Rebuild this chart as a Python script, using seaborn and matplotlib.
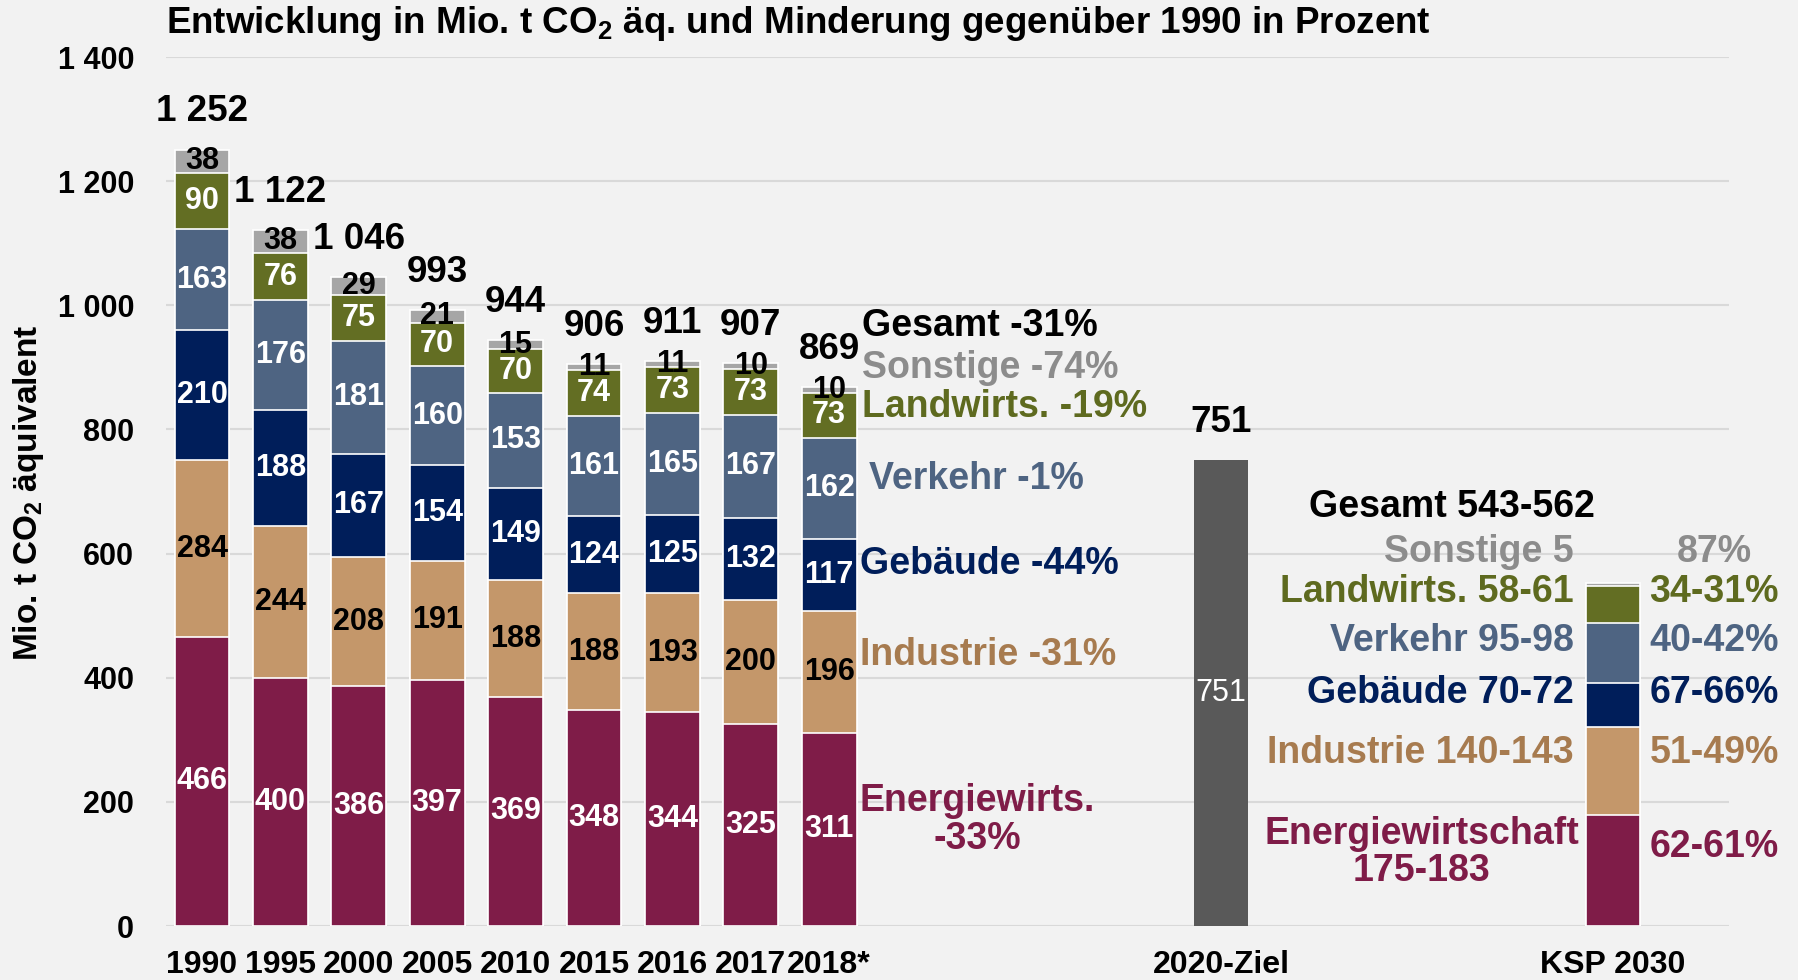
import numpy as np
import pandas as pd
import matplotlib
matplotlib.use("Agg")
import matplotlib.pyplot as plt
import seaborn as sns

# ── Data ─────────────────────────────────────────────────────────────
YEARS     = ["1990", "1995", "2000", "2005", "2010", "2015", "2016", "2017", "2018*"]
ENERGIE   = [466, 400, 386, 397, 369, 348, 344, 325, 311]
INDUSTRIE = [284, 244, 208, 191, 188, 188, 193, 200, 196]
GEBAEUDE  = [210, 188, 167, 154, 149, 124, 125, 132, 117]
VERKEHR   = [163, 176, 181, 160, 153, 161, 165, 167, 162]
LANDWIRTS = [90, 76, 75, 70, 70, 74, 73, 73, 73]
SONSTIGE  = [38, 38, 29, 21, 15, 11, 11, 10, 10]
TOTALS    = [1252, 1122, 1046, 993, 944, 906, 911, 907, 869]

ZIEL_2020 = 751
KSP_LOW   = [175, 140, 70, 95, 58, 5]   # Energie, Industrie, Gebäude, Verkehr, Landwirts, Sonstige
KSP_HIGH  = [183, 143, 72, 98, 61, 5]
KSP_TOTAL = "543-562"
KSP_PCT   = ["62-61%", "51-49%", "67-66%", "40-42%", "34-31%", "87%"]

CHANGE_2018 = ["-33%", "-31%", "-44%", "-1%", "-19%", "-74%"]
GESAMT_2018 = "-31%"

SECTORS = ["Energiewirtschaft", "Industrie", "Gebäude", "Verkehr", "Landwirtschaft", "Sonstige"]

# ── Style ────────────────────────────────────────────────────────────
BG = "#F2F2F2"
COLORS = {
    "Energiewirtschaft": "#7F1C48",
    "Industrie":         "#C4976A",
    "Gebäude":           "#001E5A",
    "Verkehr":           "#4E6482",
    "Landwirtschaft":    "#636E23",
    "Sonstige":          "#A6A6A6",
}
TEXT_COLORS = {
    "Energiewirtschaft": "#7F1C48",
    "Industrie":         "#A77B4F",
    "Gebäude":           "#001E5A",
    "Verkehr":           "#4E6482",
    "Landwirtschaft":    "#5E6A1F",
    "Sonstige":          "#8C8C8C",
}
LABEL_ON_BAR = {"Industrie": "black", "Sonstige": "black"}

X_YEARS = list(range(len(YEARS)))
X_ZIEL = 13
X_KSP = 18
FS = 27


def fmt(v):
    return f"{v:,}".replace(",", " ")


def main():
    sns.set_theme(style="white")
    plt.rcParams["font.family"] = ["Liberation Sans", "DejaVu Sans"]
    plt.rcParams["font.weight"] = "bold"
    plt.rcParams["text.color"] = "black"
    plt.rcParams["xtick.color"] = "black"
    plt.rcParams["ytick.color"] = "black"
    plt.rcParams["mathtext.fontset"] = "custom"
    plt.rcParams["mathtext.rm"] = "Liberation Sans:bold"
    plt.rcParams["mathtext.it"] = "Liberation Sans:bold"
    plt.rcParams["mathtext.bf"] = "Liberation Sans:bold"

    ksp_mid = [(lo + hi) / 2 for lo, hi in zip(KSP_LOW, KSP_HIGH)]
    series = [ENERGIE, INDUSTRIE, GEBAEUDE, VERKEHR, LANDWIRTS, SONSTIGE]

    rows = []
    for s, vals, kv in zip(SECTORS, series, ksp_mid):
        for x, v in zip(X_YEARS, vals):
            rows.append({"pos": x, "sector": s, "value": v})
        rows.append({"pos": X_KSP, "sector": s, "value": kv})
    df = pd.DataFrame(rows)
    df["top"] = df.groupby("pos")["value"].cumsum()
    df["bottom"] = df["top"] - df["value"]

    fig = plt.figure(figsize=(17.98, 9.8), dpi=100, facecolor=BG)
    ax = fig.add_axes([0.0923, 0.0551, 0.8693, 0.8867], facecolor=BG)

    # overlapping cumulative bars, drawn from the top sector down
    for s in reversed(SECTORS):
        sub = df[df["sector"] == s]
        sns.barplot(data=sub, x="pos", y="top", native_scale=True, color=COLORS[s],
                    width=0.7, edgecolor="white", linewidth=1.2, errorbar=None,
                    saturation=1, ax=ax)
    sns.barplot(x=[X_ZIEL], y=[ZIEL_2020], native_scale=True, color="#595959",
                width=0.7, linewidth=0, errorbar=None, saturation=1, ax=ax)

    # segment labels
    for _, r in df[df["pos"] != X_KSP].iterrows():
        ax.text(r["pos"], (r["top"] + r["bottom"]) / 2, f"{int(r['value'])}",
                ha="center", va="center", fontsize=22, fontweight="bold",
                color=LABEL_ON_BAR.get(r["sector"], "white"))

    # totals
    for x, t in zip(X_YEARS + [X_ZIEL], TOTALS + [ZIEL_2020]):
        ax.annotate(fmt(t), (x, t), xytext=(0, 27), textcoords="offset points",
                    ha="center", va="center", fontsize=26.5, fontweight="bold",
                    color="black")
    ax.text(X_ZIEL, ZIEL_2020 / 2, fmt(ZIEL_2020), ha="center", va="center",
            fontsize=22, fontweight="normal", color="white")

    # 2018 change labels
    ax.text(8.42, 967, f"Gesamt {GESAMT_2018}", ha="left", va="center", fontsize=FS, color="black")
    ax.text(8.42, 899, f"Sonstige {CHANGE_2018[5]}", ha="left", va="center", fontsize=FS,
            color=TEXT_COLORS["Sonstige"])
    ax.text(8.42, 836, f"Landwirts. {CHANGE_2018[4]}", ha="left", va="center", fontsize=FS,
            color=TEXT_COLORS["Landwirtschaft"])
    ax.text(8.51, 720, f"Verkehr {CHANGE_2018[3]}", ha="left", va="center", fontsize=FS,
            color=TEXT_COLORS["Verkehr"])
    ax.text(8.39, 583, f"Gebäude {CHANGE_2018[2]}", ha="left", va="center", fontsize=FS,
            color=TEXT_COLORS["Gebäude"])
    ax.text(8.39, 437, f"Industrie {CHANGE_2018[1]}", ha="left", va="center", fontsize=FS,
            color=TEXT_COLORS["Industrie"])
    ax.text(9.89, 171, f"Energiewirts.\n{CHANGE_2018[0]}", ha="center", va="center",
            fontsize=FS, color=TEXT_COLORS["Energiewirtschaft"], linespacing=1.05)

    # KSP 2030 labels
    ax.text(15.94, 675, f"Gesamt {KSP_TOTAL}", ha="center", va="center", fontsize=FS,
            color="black")
    left_y = [None, 279, 375, 459, 538, 602]
    names = [None, "Industrie", "Gebäude", "Verkehr", "Landwirts.", "Sonstige"]
    for i in range(1, 6):
        s = SECTORS[i]
        rng = f"{KSP_LOW[i]}" if KSP_LOW[i] == KSP_HIGH[i] else f"{KSP_LOW[i]}-{KSP_HIGH[i]}"
        ax.text(17.5, left_y[i], f"{names[i]} {rng}", ha="right", va="center",
                fontsize=FS, color=TEXT_COLORS[s])
    ax.text(15.56, 118, f"Energiewirtschaft\n{KSP_LOW[0]}-{KSP_HIGH[0]}", ha="center",
            va="center", fontsize=FS, color=TEXT_COLORS["Energiewirtschaft"], linespacing=1.05)
    pct_y = [127, 279, 375, 459, 538, 602]
    for s, p, y in zip(SECTORS, KSP_PCT, pct_y):
        ax.text(19.29, y, p, ha="center", va="center", fontsize=FS, color=TEXT_COLORS[s])

    # axes
    ax.set_xlim(-0.46, 19.48)
    ax.set_ylim(0, 1400)
    ax.set_yticks(np.arange(0, 1401, 200))
    ax.set_yticklabels([fmt(v) for v in range(0, 1401, 200)], fontsize=22,
                       fontweight="bold")
    ax.set_xticks(X_YEARS + [X_ZIEL, X_KSP])
    ax.set_xticklabels(YEARS + ["2020-Ziel", "KSP 2030"], fontsize=23,
                       fontweight="bold")
    ax.tick_params(axis="y", length=0, pad=23)
    ax.tick_params(axis="x", length=0, pad=17)
    ax.set_xlabel("")
    ax.set_ylabel("")
    ax.grid(axis="y", color="#D9D9D9", linewidth=1.5)
    ax.grid(axis="x", visible=False)
    ax.set_axisbelow(True)
    for sp in ax.spines.values():
        sp.set_visible(False)

    fig.text(29 / 1798, 0.497, "Mio. t CO$_2$ äquivalent", rotation=90, ha="center",
             va="center", fontsize=24, fontweight="bold")
    fig.text(0.0923, 0.9765, "Entwicklung in Mio. t CO$_2$ äq. und Minderung gegenüber 1990 in Prozent",
             ha="left", va="center", fontsize=26.5, fontweight="bold")

    fig.savefig("out.png", dpi=100, facecolor=BG)
    plt.close(fig)


if __name__ == "__main__":
    main()
